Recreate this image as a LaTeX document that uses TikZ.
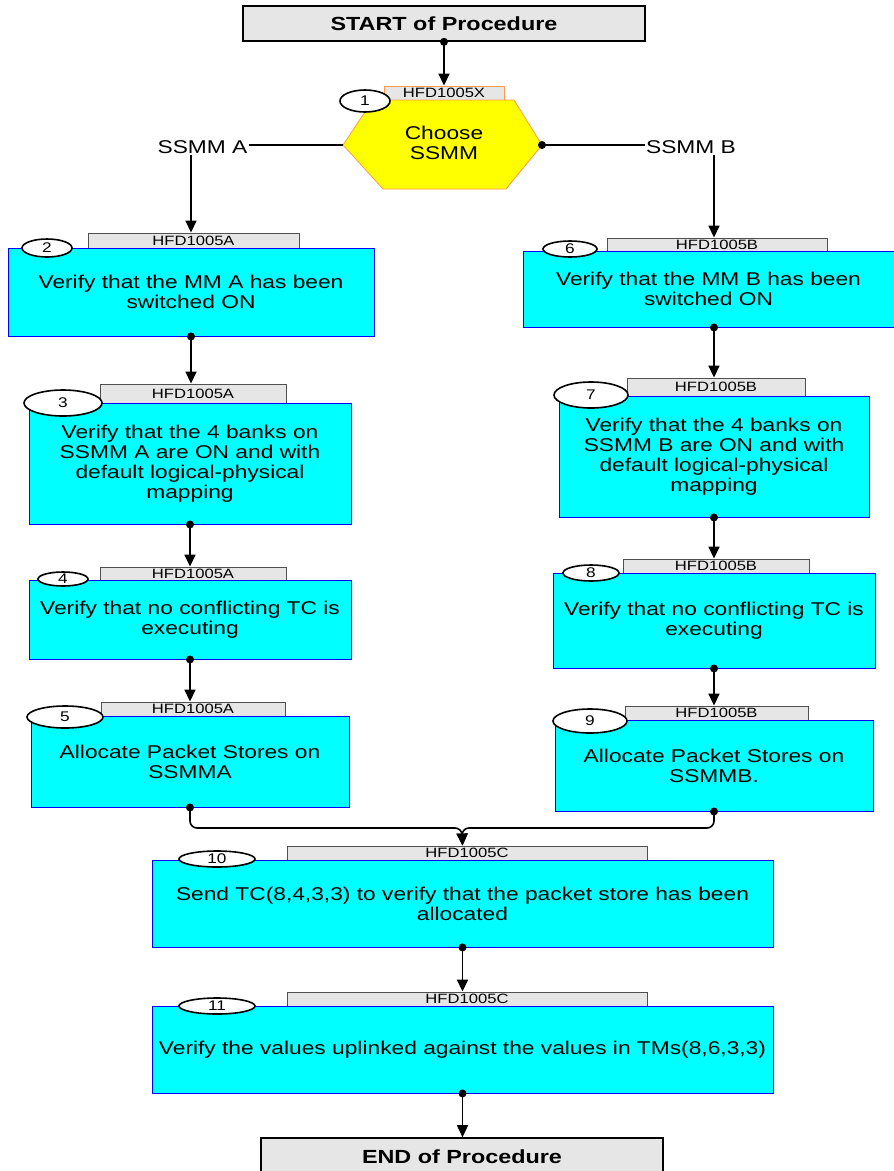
\documentclass[tikz,border=0pt]{standalone}
\usepackage{fontspec}
\setmainfont{Liberation Sans}[FakeStretch=1.23]
\usepackage{tikz}
\usetikzlibrary{shapes.geometric, arrows.meta, positioning, calc}
\definecolor{panelgray}{HTML}{E6E6E6}
\definecolor{tabedge}{HTML}{505050}
\definecolor{hexorange}{HTML}{FF9A4D}
\definecolor{hexyellow}{HTML}{FFFF00}
\definecolor{stepcyan}{HTML}{00FFFF}
\definecolor{stepblue}{HTML}{0000FF}

\begin{document}
\begin{tikzpicture}[x=1pt, y=-1pt,
  termbox/.style={draw, fill=panelgray, line width=1.6pt, inner sep=0pt,
    font=\fontsize{19}{20}\selectfont\bfseries},
  stepbox/.style={draw=stepblue, fill=stepcyan, line width=0.9pt, inner sep=0pt,
    align=center, font=\fontsize{18.5}{20}\selectfont},
  tabbox/.style={draw=tabedge, fill=panelgray, line width=0.9pt, inner sep=0pt,
    font=\fontsize{13.5}{14}\selectfont},
  numoval/.style={ellipse, draw, fill=white, line width=1.6pt, inner sep=0pt,
    font=\fontsize{14}{14}\selectfont},
  branchlbl/.style={inner sep=1pt, font=\fontsize{18.5}{20}\selectfont},
  flow/.style={line width=1.6pt, -{Triangle[width=11pt,length=12pt]}},
  wire/.style={line width=1.6pt}]
  \useasboundingbox (0,0) rectangle (894,1171);

  % Start
  \node[termbox, minimum width=402, minimum height=35] (start) at (444,23.5) {START of Procedure};

  % Step 1: choose SSMM
  \node[tabbox, draw=hexorange, minimum width=120, minimum height=14] (t1) at (444,93) {HFD1005X};
  \coordinate (hexL) at (343,145);
  \coordinate (hexR) at (542,145);
  \draw[fill=hexyellow, draw=hexorange, line width=0.8pt]
    (373,100) -- (514,100) -- (hexR) -- (506,189) -- (383,189) -- (hexL) -- cycle;
  \node[align=center, font=\fontsize{18.5}{20}\selectfont] (choose) at (444,143) {Choose\\SSMM};
  \node[numoval, minimum width=50, minimum height=22] (n1) at (365,101) {1};
  \fill (start.south) circle (4pt);
  \draw[flow] (start.south) -- (t1.north);

  % Branch labels
  \node[branchlbl] (lblA) at (202.5,147) {SSMM A};
  \node[branchlbl] (lblB) at (691,147) {SSMM B};
  \draw[wire] (hexL) -- (hexL -| lblA.east);
  \draw[wire] (hexR) -- (hexR -| lblB.west);
  \fill (hexR) circle (4pt);

  % Left branch (SSMM A)
  \node[tabbox, minimum width=211, minimum height=15] (t2) at (193.5,240.5) {HFD1005A};
  \node[stepbox, minimum width=366, minimum height=88] (s2) at (191,292)
    {Verify that the MM A has been\\switched ON};
  \node[numoval, minimum width=50, minimum height=18] (n2) at (47,248) {2};

  \node[tabbox, minimum width=186, minimum height=19] (t3) at (193,393.5) {HFD1005A};
  \node[stepbox, minimum width=322, minimum height=121] (s3) at (190,463.5)
    {Verify that the 4 banks on\\SSMM A are ON and with\\default logical-physical\\mapping};
  \node[numoval, minimum width=78, minimum height=26] (n3) at (63,403) {3};

  \node[tabbox, minimum width=186, minimum height=13] (t4) at (193,573.5) {HFD1005A};
  \node[stepbox, minimum width=322, minimum height=79] (s4) at (190,619.5)
    {Verify that no conflicting TC is\\executing};
  \node[numoval, minimum width=50, minimum height=14] (n4) at (63,579) {4};

  \node[tabbox, minimum width=184, minimum height=14] (t5) at (193,709) {HFD1005A};
  \node[stepbox, minimum width=318, minimum height=91] (s5) at (190,761.5)
    {Allocate Packet Stores on\\SSMMA};
  \node[numoval, minimum width=76, minimum height=22] (n5) at (65,717) {5};

  % Right branch (SSMM B)
  \node[tabbox, minimum width=220, minimum height=13] (t6) at (717,244.5) {HFD1005B};
  \node[stepbox, minimum width=371, minimum height=76] (s6) at (708.5,289)
    {Verify that the MM B has been\\switched ON};
  \node[numoval, minimum width=54, minimum height=16] (n6) at (570,249) {6};

  \node[tabbox, minimum width=178, minimum height=18] (t7) at (716,387) {HFD1005B};
  \node[stepbox, minimum width=310, minimum height=121] (s7) at (714,456.5)
    {Verify that the 4 banks on\\SSMM B are ON and with\\default logical-physical\\mapping};
  \node[numoval, minimum width=74, minimum height=26] (n7) at (591,395) {7};

  \node[tabbox, minimum width=186, minimum height=14] (t8) at (716,566) {HFD1005B};
  \node[stepbox, minimum width=322, minimum height=95] (s8) at (714,620.5)
    {Verify that no conflicting TC is\\executing};
  \node[numoval, minimum width=56, minimum height=16] (n8) at (591,573) {8};

  \node[tabbox, minimum width=183, minimum height=14] (t9) at (716.5,713) {HFD1005B};
  \node[stepbox, minimum width=318, minimum height=91] (s9) at (714,765.5)
    {Allocate Packet Stores on\\SSMMB.};
  \node[numoval, minimum width=74, minimum height=24] (n9) at (590,721) {9};

  % Common steps
  \node[tabbox, minimum width=360, minimum height=14] (t10) at (467,853) {HFD1005C};
  \node[stepbox, minimum width=621, minimum height=87] (s10) at (462.5,903.5)
    {Send TC(8,4,3,3) to verify that the packet store has been\\allocated};
  \node[numoval, minimum width=76, minimum height=16] (n10) at (217,859) {10};

  \node[tabbox, minimum width=360, minimum height=14] (t11) at (467,999) {HFD1005C};
  \node[stepbox, minimum width=621, minimum height=87] (s11) at (462.5,1049.5)
    {Verify the values uplinked against the values in TMs(8,6,3,3)};
  \node[numoval, minimum width=76, minimum height=16] (n11) at (217,1006) {11};

  % End
  \node[termbox, minimum width=402, minimum height=38] (end) at (462,1157) {END of Procedure};

  % Connections
  \draw[flow] (lblA.south -| s2.north) -- (s2.north |- t2.north);
  \draw[flow] (lblB.south -| s7.north) -- (s7.north |- t6.north);
  \foreach \a/\b in {s2/t3, s3/t4, s4/t5, s10/t11, s11/end} {
    \fill (\a.south) circle (4pt);
    \draw[flow] (\a.south) -- (\a.south |- \b.north);
  }
  \foreach \a/\b in {s7/t8, s8/t9} {
    \fill (\a.south) circle (4pt);
    \draw[flow] (\a.south) -- (\a.south |- \b.north);
  }
  \fill (s6.south -| s7.north) circle (4pt);
  \draw[flow] (s6.south -| s7.north) -- (s7.north |- t7.north);

  % Merge into step 10
  \coordinate (join) at (462,828);
  \fill (s5.south) circle (4pt);
  \fill (s9.south) circle (4pt);
  \draw[flow, rounded corners=7pt] (s5.south) |- (join) -- (s10.north |- t10.north);
  \draw[flow, rounded corners=7pt] (s9.south) |- (join) -- (s10.north |- t10.north);
\end{tikzpicture}
\end{document}
